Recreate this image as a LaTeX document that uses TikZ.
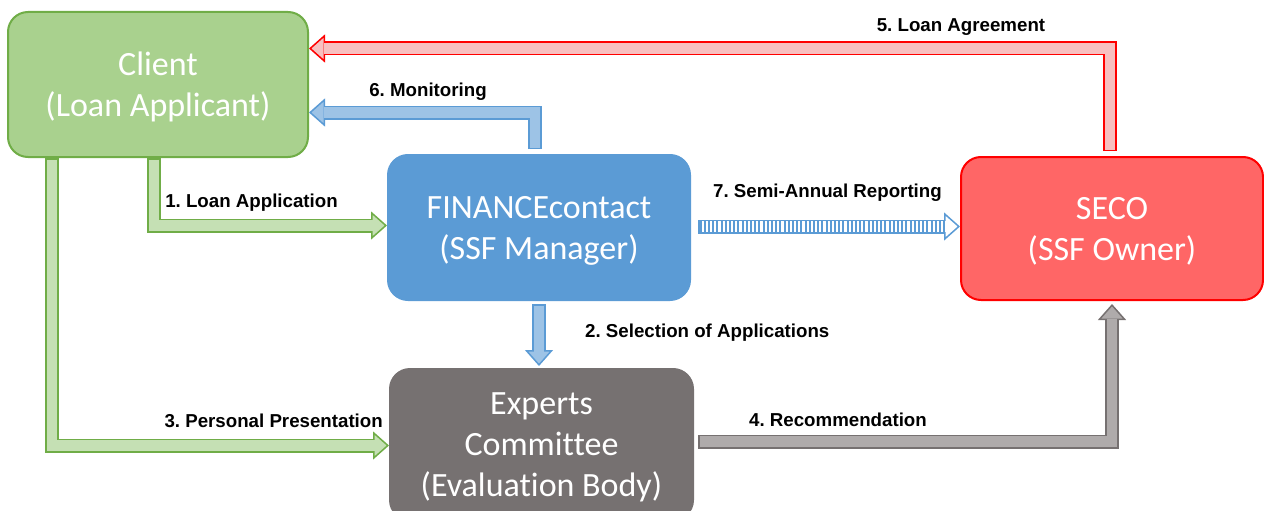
\documentclass[tikz,border=0pt]{standalone}
\usepackage{fontspec}
\setmainfont{Liberation Sans}
\newfontfamily\boxfont[Ligatures=CommonOff]{Carlito}
\usetikzlibrary{arrows.meta,positioning}
\frenchspacing

\definecolor{clientfill}{HTML}{A9D18E}
\definecolor{greenline}{HTML}{70AD47}
\definecolor{greenfill}{HTML}{C5E0B4}
\definecolor{bluebox}{HTML}{5B9BD5}
\definecolor{blueline}{HTML}{5B9BD5}
\definecolor{bluefill}{HTML}{9DC3E6}
\definecolor{redbox}{HTML}{FF6666}
\definecolor{redline}{HTML}{FF0000}
\definecolor{redfill}{HTML}{F8C0C0}
\definecolor{graybox}{HTML}{767171}
\definecolor{grayline}{HTML}{767171}
\definecolor{grayfill}{HTML}{AFABAB}

\tikzset{
 party/.style={rounded corners=20pt, line width=2pt, align=center, text=white, inner sep=0pt,
   text depth=-4pt, font=\boxfont\fontsize{34}{41}\selectfont},
 flowline/.style={line width=14pt, -{Triangle[length=16pt,width=28pt,line width=1.5pt,fill=#1]}},
 flowfill/.style={line width=10.5pt, shorten >=14.5pt, shorten <=1.5pt},
 lbl/.style={font=\bfseries\fontsize{18.7}{22}\selectfont, inner sep=0pt},
}
% block arrow: outline colour, fill colour, path
\newcommand\flow[3]{%
 \draw[flowline=#2, draw=#1] #3;
 \draw[flowfill, draw=#2] #3;}

\begin{document}
\begin{tikzpicture}[x=1pt,y=-1pt]
 \useasboundingbox (0,0) rectangle (1264,511);
 % parties
 \node[party, fill=clientfill, draw=greenline, minimum width=300pt, minimum height=145pt] (client) at (158,84.5) {Client\\(Loan Applicant)};
 \node[party, fill=bluebox, draw=bluebox, minimum width=302pt, minimum height=145pt] (fin) at (539,227.5) {FINANCEcontact\\(SSF Manager)};
 \node[party, fill=redbox, draw=redline, minimum width=302pt, minimum height=143pt] (seco) at (1112,228.5) {SECO\\(SSF Owner)};
 \node[party, fill=graybox, draw=graybox, minimum width=303pt, minimum height=151pt] (exp) at (541.5,444.5) {Experts\\Committee\\(Evaluation Body)};
 % flows
 \flow{greenline}{greenfill}{([xshift=147pt]client.south west) |- ([yshift=2pt]fin.west)}
 \flow{greenline}{greenfill}{([xshift=45pt]client.south west) |- ([yshift=-1pt]exp.west)}
 \flow{blueline}{bluefill}{([xshift=-4pt,yshift=5pt]fin.north) |- ([yshift=-28pt]client.east)}
 \flow{redline}{redfill}{([xshift=-2pt,yshift=5pt]seco.north) |- ([yshift=36pt]client.east)}
 \flow{blueline}{bluefill}{([yshift=-3pt]fin.south) -- ([xshift=-2.5pt,yshift=2pt]exp.north)}
 \flow{grayline}{grayfill}{([xshift=4pt,yshift=3pt]exp.east) -| ([yshift=-3pt]seco.south)}
 \flow{blueline}{white}{([xshift=7pt,yshift=1pt]fin.east) -- ([yshift=1pt]seco.west |- fin.east)}
 \draw[flowfill, draw=blueline, dash pattern=on 2pt off 2.2pt] ([xshift=7pt,yshift=1pt]fin.east) -- ([yshift=1pt]seco.west |- fin.east);
 % labels
 \node[lbl] (l1) at (251.5,203) {1. Loan Application};
 \node[lbl, anchor=west] (l2) at (585,333) {2. Selection of Applications};
 \node[lbl, anchor=east] (l3) at (383,421) {3. Personal Presentation};
 \node[lbl] (l4) at (838,420) {4. Recommendation};
 \node[lbl] (l5) at (961,27) {5. Loan Agreement};
 \node[lbl] (l6) at (428,92) {6. Monitoring};
 \node[lbl] (l7) at (827.5,193) {7. Semi-Annual Reporting};
\end{tikzpicture}
\end{document}
